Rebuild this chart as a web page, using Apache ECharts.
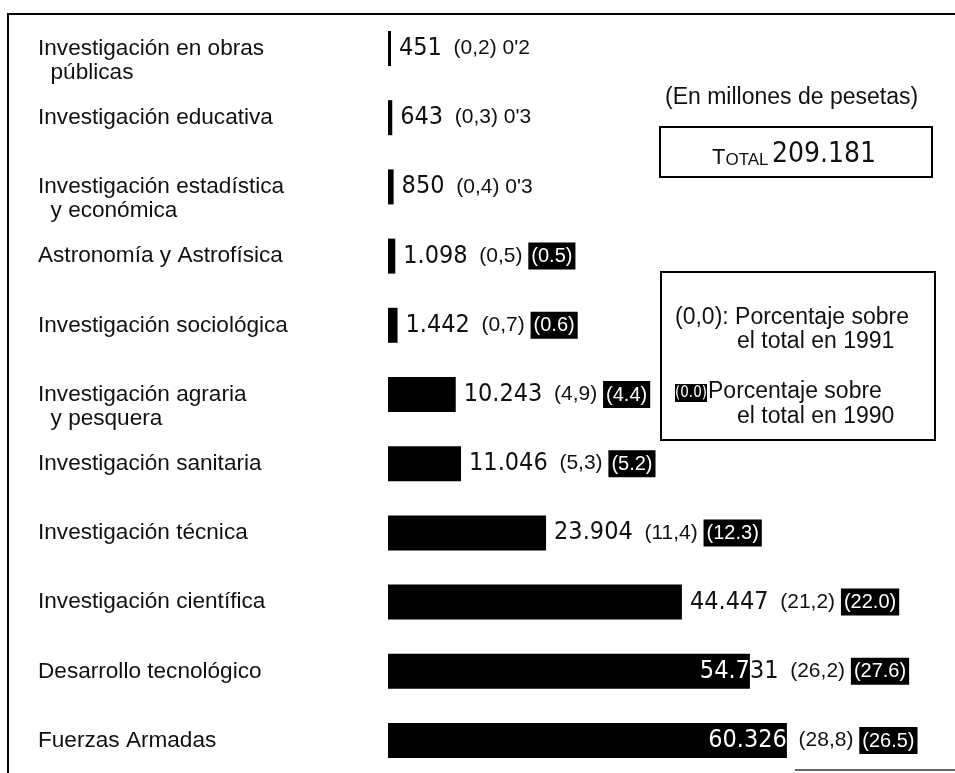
<!DOCTYPE html>
<html>
<head>
<meta charset="utf-8">
<script src="https://cdn.jsdelivr.net/npm/echarts@6/dist/echarts.min.js"></script>
<style>
  html, body { margin: 0; padding: 0; background: #fff; }
  #chart { width: 955px; height: 773px; }
</style>
</head>
<body>
<div id="chart"></div>
<script>
// Presupuesto de I+D por programas (millones de pesetas)
const categories = [
  'Investigación en obras\npúblicas',
  'Investigación educativa',
  'Investigación estadística\ny económica',
  'Astronomía y Astrofísica',
  'Investigación sociológica',
  'Investigación agraria\ny pesquera',
  'Investigación sanitaria',
  'Investigación técnica',
  'Investigación científica',
  'Desarrollo tecnológico',
  'Fuerzas Armadas'
];
const values = [451, 643, 850, 1098, 1442, 10243, 11046, 23904, 44447, 54731, 60326];
// porcentaje sobre el total en 1991
const share1991 = ['0,2', '0,3', '0,4', '0,5', '0,7', '4,9', '5,3', '11,4', '21,2', '26,2', '28,8'];
// porcentaje sobre el total en 1990
const share1990 = ["0'2", "0'3", "0'3", '0.5', '0.6', '4.4', '5.2', '12.3', '22.0', '27.6', '26.5'];

const SANS = "'Liberation Sans', Arial, sans-serif";
const NARROW = "'Liberation Sans Narrow', 'DejaVu Sans Condensed', 'Liberation Sans', sans-serif";
const NUM_SIZE = 25;
const LABEL_GAP = 8;

// how many leading characters of the value label sit over the end of the bar
const overBar = { 9: 4, 10: 6 };

function thousands(v) {
  return String(v).replace(/\B(?=(\d{3})+(?!\d))/g, '.');
}

const measureCtx = document.createElement('canvas').getContext('2d');
function textWidth(str, size, family) {
  measureCtx.font = size + 'px ' + family;
  return measureCtx.measureText(str).width;
}

const total = values.reduce((a, b) => a + b, 0);

const barData = values.map((v, i) => {
  const item = { value: v };
  if (overBar[i] !== undefined) {
    const inside = thousands(v).slice(0, overBar[i]);
    const w = textWidth(inside, NUM_SIZE, NARROW);
    item.label = { offset: [-(w + LABEL_GAP), 0] };
  }
  return item;
});

function valueLabel(p) {
  const i = p.dataIndex;
  const num = thousands(values[i]);
  let numPart;
  if (overBar[i] !== undefined) {
    const a = num.slice(0, overBar[i]);
    const b = num.slice(overBar[i]);
    numPart = '{nw|' + a + '}' + (b ? '{n|' + b + '}' : '');
  } else {
    numPart = '{n|' + num + '}';
  }
  const prev = share1990[i];
  const prevPart = prev.indexOf("'") >= 0 ? '{p|' + prev + '}' : '{b|(' + prev + ')}';
  return numPart + '{p|  (' + share1991[i] + ') }' + prevPart;
}

const chart = echarts.init(document.getElementById('chart'), null, { renderer: 'canvas' });

const option = {
  backgroundColor: '#fff',
  animation: false,
  grid: {
    left: 388,
    top: 13.9,
    width: 529,
    height: 761.2,
    outerBoundsMode: 'none',
    containLabel: false
  },
  xAxis: {
    type: 'value',
    min: 0,
    max: 80000,
    show: false
  },
  yAxis: {
    type: 'category',
    inverse: true,
    data: categories,
    axisLine: { show: false },
    axisTick: { show: false },
    splitLine: { show: false },
    axisLabel: {
      interval: 0,
      showMinLabel: true,
      showMaxLabel: true,
      hideOverlap: false,
      align: 'left',
      margin: 350,
      fontFamily: SANS,
      fontSize: 22.6,
      lineHeight: 24,
      color: '#111',
      formatter: function (v) {
        const parts = v.split('\n');
        return ' \n' + parts[0] + '\n' + (parts[1] ? '  ' + parts[1] : ' ');
      }
    }
  },
  series: [{
    type: 'bar',
    data: barData,
    barWidth: 35,
    itemStyle: { color: '#000' },
    label: {
      show: true,
      position: 'right',
      distance: LABEL_GAP,
      fontFamily: SANS,
      fontSize: 21,
      color: '#111',
      formatter: valueLabel,
      rich: {
        n: { fontFamily: NARROW, fontSize: NUM_SIZE, color: '#111', lineHeight: 34 },
        nw: { fontFamily: NARROW, fontSize: NUM_SIZE, color: '#fff', lineHeight: 34 },
        p: { fontFamily: SANS, fontSize: 21, color: '#111', lineHeight: 34 },
        b: {
          fontFamily: SANS, fontSize: 20, color: '#fff', backgroundColor: '#000',
          lineHeight: 24, padding: [4, 3, 3, 3]
        }
      }
    }
  }],
  graphic: [
    // frame
    { type: 'line', shape: { x1: 7, y1: 14, x2: 955, y2: 14 }, style: { stroke: '#000', lineWidth: 2 } },
    { type: 'line', shape: { x1: 8, y1: 13, x2: 8, y2: 773 }, style: { stroke: '#000', lineWidth: 2 } },
    { type: 'line', shape: { x1: 795, y1: 770, x2: 955, y2: 770 }, style: { stroke: '#333', lineWidth: 1.5 } },
    // unit note
    {
      type: 'text', left: 665, top: 86,
      style: { text: '(En millones de pesetas)', fontFamily: SANS, fontSize: 23, fill: '#111' }
    },
    // total box
    { type: 'rect', shape: { x: 660, y: 127, width: 272, height: 50 }, style: { fill: 'none', stroke: '#000', lineWidth: 2 } },
    {
      type: 'text', x: 794, y: 152,
      style: {
        text: '{t|T}{s|OTAL} {v|' + thousands(total) + '}',
        align: 'center', verticalAlign: 'middle',
        rich: {
          t: { fontFamily: SANS, fontSize: 22, fill: '#111', lineHeight: 34, verticalAlign: 'bottom' },
          s: { fontFamily: SANS, fontSize: 17, fill: '#111', lineHeight: 34, verticalAlign: 'bottom' },
          v: { fontFamily: NARROW, fontSize: 28, fill: '#111', lineHeight: 34, verticalAlign: 'bottom' }
        }
      }
    },
    // key box
    { type: 'rect', shape: { x: 661, y: 272, width: 274, height: 168 }, style: { fill: 'none', stroke: '#000', lineWidth: 2 } },
    {
      type: 'text', x: 675, y: 318,
      style: { text: '(0,0): Porcentaje sobre', fontFamily: SANS, fontSize: 23, fill: '#111', verticalAlign: 'middle' }
    },
    {
      type: 'text', x: 737, y: 342,
      style: { text: 'el total en 1991', fontFamily: SANS, fontSize: 23, fill: '#111', verticalAlign: 'middle' }
    },
    {
      type: 'text', x: 675, y: 393,
      style: {
        text: '(0.0)', fontFamily: NARROW, fontSize: 15, fill: '#fff', verticalAlign: 'middle',
        backgroundColor: '#000', padding: [2, 0, 1, 0]
      }
    },
    {
      type: 'text', x: 708, y: 392,
      style: { text: 'Porcentaje sobre', fontFamily: SANS, fontSize: 23, fill: '#111', verticalAlign: 'middle' }
    },
    {
      type: 'text', x: 737, y: 417,
      style: { text: 'el total en 1990', fontFamily: SANS, fontSize: 23, fill: '#111', verticalAlign: 'middle' }
    }
  ]
};

chart.setOption(option);
</script>
</body>
</html>
